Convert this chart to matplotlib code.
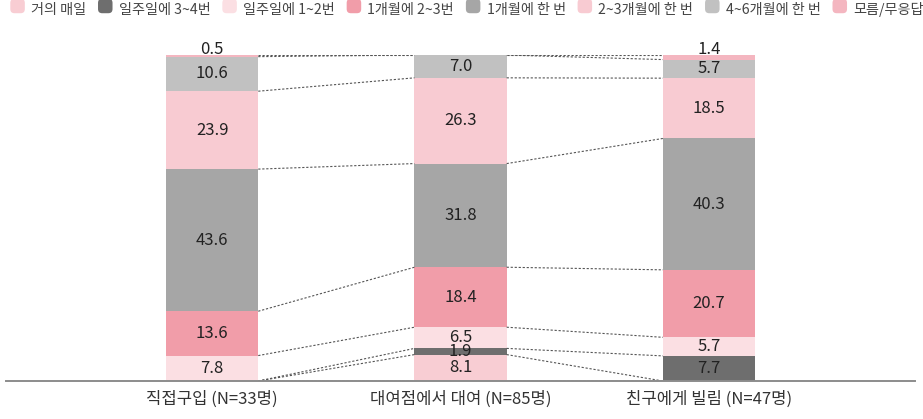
import numpy as np
import matplotlib
matplotlib.use("Agg")
import matplotlib.pyplot as plt
from matplotlib.patches import FancyBboxPatch, Patch
from matplotlib.legend_handler import HandlerPatch

plt.rcParams["font.family"] = ["Noto Sans CJK KR", "DejaVu Sans"]

groups = ["직접구입 (N=33명)", "대여점에서 대여 (N=85명)", "친구에게 빌림 (N=47명)"]
series = ["거의 매일", "일주일에 3~4번", "일주일에 1~2번", "1개월에 2~3번",
          "1개월에 한 번", "2~3개월에 한 번", "4~6개월에 한 번", "모름/무응답"]
colors = ["#f8cdd3", "#6e6e6e", "#fbdfe3", "#f19da9",
          "#a6a6a6", "#f8cbd2", "#c1c1c1", "#f4b6c0"]

# shares (%) per series, one value per group
daily = [0.0, 8.1, 0.0]
week_3_4 = [0.0, 1.9, 7.7]
week_1_2 = [7.8, 6.5, 5.7]
month_2_3 = [13.6, 18.4, 20.7]
month_1 = [43.6, 31.8, 40.3]
months_2_3 = [23.9, 26.3, 18.5]
months_4_6 = [10.6, 7.0, 5.7]
unknown = [0.5, 0.0, 1.4]

values = np.array([daily, week_3_4, week_1_2, month_2_3,
                   month_1, months_2_3, months_4_6, unknown])

fig = plt.figure(figsize=(9.23, 4.19), dpi=100)
ax = fig.add_axes([0.0065, 0.0907, 0.985, 0.778])

x = np.arange(len(groups))
width = 0.371
bottoms = np.zeros(len(groups))
for vals, col in zip(values, colors):
    ax.bar(x, vals, width, bottom=bottoms, color=col, linewidth=0)
    for xi, v, b in zip(x, vals, bottoms):
        if v <= 0:
            continue
        if v < 2 and b + v >= 99.9:
            ax.text(xi, b + v - 0.8, f"{v:.1f}", ha="center", va="bottom",
                    fontsize=12, color="#222222")
        else:
            ax.text(xi, b + v / 2, f"{v:.1f}", ha="center", va="center",
                    fontsize=12, color="#222222")
    bottoms = bottoms + vals

# dotted connectors between cumulative boundaries of neighbouring bars
cum = np.vstack([np.zeros(len(groups)), np.cumsum(values, axis=0)])
for i in range(len(groups) - 1):
    for k in range(cum.shape[0]):
        ax.plot([x[i] + width / 2, x[i + 1] - width / 2],
                [cum[k, i], cum[k, i + 1]], color="#555555",
                linewidth=0.8, linestyle=(0, (2, 1.6)), zorder=1)

ax.set_xlim(-0.83, 2.83)
ax.set_ylim(0, 100)
for s in ["top", "right", "left"]:
    ax.spines[s].set_visible(False)
ax.spines["bottom"].set_color("#8c8c8c")
ax.spines["bottom"].set_linewidth(1.4)
ax.set_yticks([])
ax.set_xticks(x, groups)
ax.tick_params(axis="x", length=0, pad=7, labelsize=12, labelcolor="#333333")


class RoundBox(HandlerPatch):
    def create_artists(self, legend, orig, xd, yd, w, h, fs, trans):
        s = min(w, h)
        p = FancyBboxPatch((xd + (w - s) / 2, yd + (h - s) / 2 - 1), s, s,
                           boxstyle="round,pad=0,rounding_size=3",
                           facecolor=orig.get_facecolor(), linewidth=0,
                           transform=trans)
        return [p]


handles = [Patch(facecolor=c) for c in colors]
fig.legend(handles, series, loc="upper left", bbox_to_anchor=(-0.004, 1.025),
           ncol=8, frameon=False, fontsize=10.2, handlelength=1.2,
           handleheight=1.2, handletextpad=0.35, columnspacing=0.75,
           labelcolor="#444444",
           handler_map={Patch: RoundBox()})

fig.savefig("out.png", dpi=100)
